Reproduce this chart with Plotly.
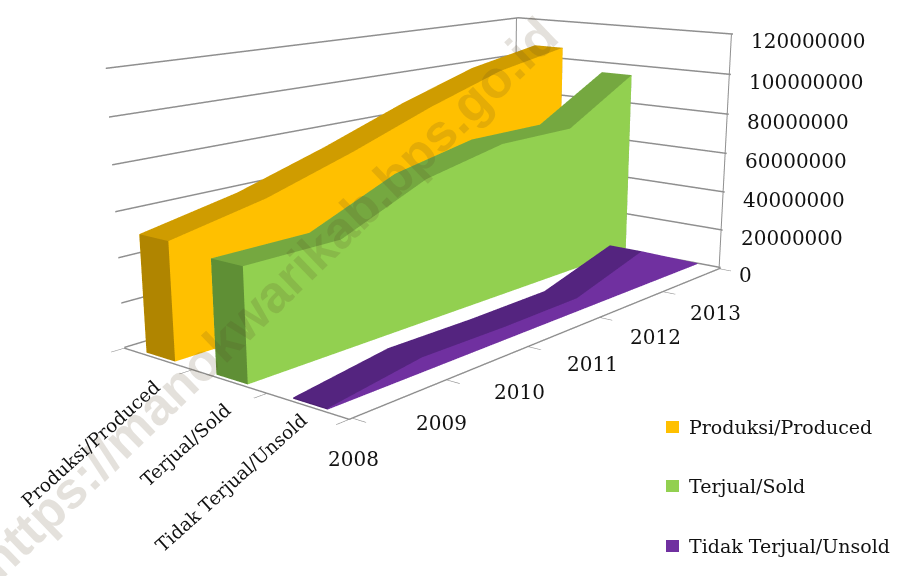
import plotly.graph_objects as go

years = [2008, 2009, 2010, 2011, 2012, 2013]
series_names = ["Produksi/Produced", "Terjual/Sold", "Tidak Terjual/Unsold"]
produced = [52000000, 60500000, 73000000, 87000000, 99000000, 106000000]
sold = [49000000, 49000000, 66000000, 74000000, 74000000, 95000000]
unsold = [500000, 6500000, 6000000, 6500000, 18000000, 500000]
z_ticks = [0, 20000000, 40000000, 60000000, 80000000, 100000000, 120000000]
z_labels = ["0", "20000000", "40000000", "60000000", "80000000", "100000000", "120000000"]
y_centres = [2.5, 1.5, 0.5]
colors_front = ["#FFC000", "#92D050", "#7030A0"]
colors_top = ["#CF9C00", "#75A840", "#54247F"]
colors_side = ["#B08500", "#5F8F35", "#4C2070"]
FONT = "DejaVu Serif"
TXT = "#111111"
GRID = "#8f8f8f"
HALF = 0.21
year_dx = [1, -5, -8, -7, -7, -4]
year_dy = [-42, -44, -46, -47, -46, -45]
series_dx = [-70, -46, -79]
series_dy = [-86, -65, -78]


def slab(xs, vals, yc, name, front, top, side):
    n = len(xs)
    X, Y, Z = [], [], []
    for x, v in zip(xs, vals):
        for y, z in [(yc - HALF, 0), (yc - HALF, v), (yc + HALF, v), (yc + HALF, 0)]:
            X.append(x); Y.append(y); Z.append(z)
    I, J, K, C = [], [], [], []

    def quad(a, b, c, d, col):
        I.extend([a, a]); J.extend([b, c]); K.extend([c, d]); C.extend([col, col])

    for t in range(n - 1):
        p, q = 4 * t, 4 * (t + 1)
        quad(p, q, q + 1, p + 1, front)
        quad(p + 1, q + 1, q + 2, p + 2, top)
        quad(p + 2, q + 2, q + 3, p + 3, front)
    quad(0, 1, 2, 3, side)
    e = 4 * (n - 1)
    quad(e, e + 1, e + 2, e + 3, side)
    return go.Mesh3d(
        x=X, y=Y, z=Z, i=I, j=J, k=K, facecolor=C, flatshading=True,
        lighting=dict(ambient=1, diffuse=0, specular=0, fresnel=0, roughness=1),
        name=name, showlegend=False, showscale=False, hoverinfo="skip",
    )


fig = go.Figure()
for vals, yc, name, f, t, s in zip([produced, sold, unsold], y_centres, series_names,
                                   colors_front, colors_top, colors_side):
    fig.add_trace(slab(years, vals, yc, name, f, t, s))

for yy in (0, 3):
    fig.add_trace(go.Scatter3d(x=[2013, 2013], y=[yy, yy], z=[0, 120000000], mode="lines",
                               line=dict(color=GRID, width=2), showlegend=False, hoverinfo="skip"))

axis_common = dict(title="", showgrid=False, showbackground=False, showline=True, linecolor=GRID, linewidth=3,
                   ticks="outside", tickcolor=GRID, ticklen=6, tickwidth=2, showticklabels=False, zeroline=False,
                   showspikes=False)

scene_ann = []
tick_style = dict(family=FONT, size=20, color=TXT)
for yr, dx, dy in zip(years, year_dx, year_dy):
    scene_ann.append(dict(x=yr, y=0, z=0, text=str(yr), showarrow=False, xanchor="center", yanchor="middle",
                          xshift=dx, yshift=dy, font=tick_style))
for zv, lab in zip(z_ticks, z_labels):
    scene_ann.append(dict(x=2013, y=0, z=zv, text=lab, showarrow=False, xanchor="left", yanchor="middle",
                          xshift=18, yshift=-7, font=tick_style))
for yc, name, sx, sy in zip(y_centres, series_names, series_dx, series_dy):
    scene_ann.append(dict(x=2008, y=yc, z=0, text=name, showarrow=False, xanchor="center", yanchor="middle",
                          xshift=sx, yshift=sy, textangle=-42, font=dict(family=FONT, size=18.5, color=TXT)))

legend_y = [427, 486, 546]
shapes, annotations = [], []
for col, name, py in zip(colors_front, series_names, legend_y):
    shapes.append(dict(type="rect", xref="paper", yref="paper", x0=666 / 906, x1=679 / 906,
                       y0=1 - (py + 6) / 576, y1=1 - (py - 6) / 576, fillcolor=col, line=dict(width=0)))
    annotations.append(dict(text=name, x=687 / 906, y=1 - py / 576, xref="paper", yref="paper", showarrow=False,
                            xanchor="left", yanchor="middle", font=dict(family=FONT, size=19, color=TXT)))
annotations.append(dict(text="https://manokwarikab.bps.go.id", x=268 / 906, y=1 - 298 / 576, xref="paper", yref="paper",
                        showarrow=False, textangle=-44, xanchor="center", yanchor="middle",
                        font=dict(family="Liberation Sans", size=52, color="rgba(90,70,40,0.16)", weight="bold")))

fig.update_layout(
    width=906, height=576,
    margin=dict(l=0, r=0, t=0, b=0),
    paper_bgcolor="white",
    showlegend=False,
    shapes=shapes,
    annotations=annotations,
    scene=dict(
        domain=dict(x=[0, 1], y=[0, 1]),
        aspectmode="manual",
        aspectratio=dict(x=1.087, y=0.517, z=0.467),
        camera=dict(eye=dict(x=-1.9665, y=-1.6243, z=0.529), center=dict(x=0.0035, y=-0.0043, z=-0.202),
                    up=dict(x=0, y=0, z=1)),
        xaxis=dict(range=[2007.97, 2013.03], tickvals=years, **axis_common),
        yaxis=dict(range=[0, 3], tickvals=[0, 1, 2, 3], **axis_common),
        zaxis=dict(title="", range=[-300000, 120000000], tickvals=z_ticks,
                   showgrid=True, gridcolor=GRID, gridwidth=3, showbackground=False, showline=False,
                   ticks="", showticklabels=False, zeroline=False, showspikes=False),
        annotations=scene_ann,
    ),
)
post = """
document.body.style.margin = '0';
document.documentElement.style.overflow = 'hidden';
var gd = document.getElementById('{plot_id}');
(function narrow() {
  var s = gd._fullLayout && gd._fullLayout.scene && gd._fullLayout.scene._scene;
  if (!s || !s.glplot) { setTimeout(narrow, 20); return; }
  s.glplot.fovy = 0.394;
  s.glplot.redraw();
})();
"""
fig.write_html("out.html", post_script=post, config=dict(displayModeBar=False))
